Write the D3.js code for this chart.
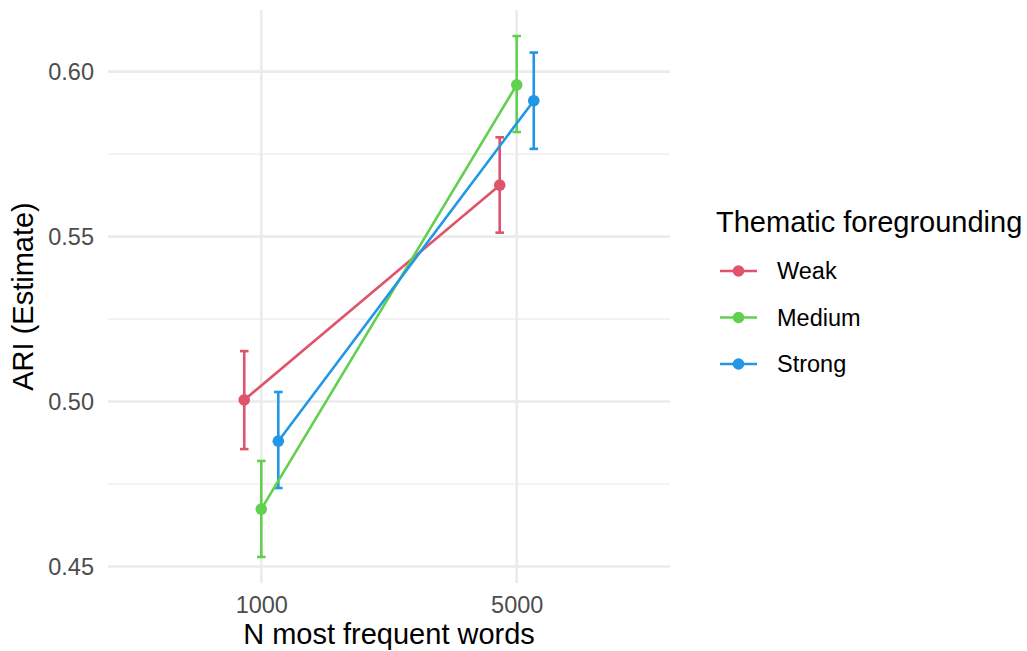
<!DOCTYPE html>
<html>
<head>
<meta charset="utf-8">
<script src="https://cdn.jsdelivr.net/npm/d3@7"></script>
<style>
  html, body { margin: 0; padding: 0; background: #fff; }
  svg { display: block; font-family: "Liberation Sans", Arial, Helvetica, sans-serif; }
</style>
</head>
<body>
<svg id="chart" width="1027" height="651"></svg>
<script>
// Vocabulary size (x categories) and thematic foregrounding levels (series)
const categories = ["1000", "5000"];
const groups = ["Weak", "Medium", "Strong"];
const colors = ["#DF536B", "#61D04F", "#2297E6"];

// ARI estimates with lower / upper interval bounds, one entry per category
const weakEst = [0.5005, 0.5656];
const weakLow = [0.4856, 0.5512];
const weakHigh = [0.5153, 0.5801];

const mediumEst = [0.4674, 0.5960];
const mediumLow = [0.4529, 0.5817];
const mediumHigh = [0.4820, 0.6108];

const strongEst = [0.4880, 0.5912];
const strongLow = [0.4738, 0.5766];
const strongHigh = [0.5029, 0.6058];

const yTicks = [0.45, 0.50, 0.55, 0.60];
const yMinor = [0.475, 0.525, 0.575];

const series = [
  { name: "Weak", est: weakEst, low: weakLow, high: weakHigh },
  { name: "Medium", est: mediumEst, low: mediumLow, high: mediumHigh },
  { name: "Strong", est: strongEst, low: strongLow, high: strongHigh }
];

const svg = d3.select("#chart");
const panel = { left: 108, right: 670, top: 10, bottom: 583 };

const color = d3.scaleOrdinal().domain(groups).range(colors);

const x = d3.scalePoint().domain(categories).range([panel.left, panel.right]).padding(0.6);
const dodge = d3.scalePoint().domain(groups).range([-x.step() * 0.2 / 3, x.step() * 0.2 / 3]);

const allLow = d3.min(series, s => d3.min(s.low));
const allHigh = d3.max(series, s => d3.max(s.high));
const pad = (allHigh - allLow) * 0.05;
const y = d3.scaleLinear().domain([allLow - pad, allHigh + pad]).range([panel.bottom, panel.top]);

// grid
const grid = svg.append("g");
grid.selectAll(".minor").data(yMinor).join("line")
  .attr("x1", panel.left).attr("x2", panel.right)
  .attr("y1", d => y(d)).attr("y2", d => y(d))
  .attr("stroke", "#EBEBEB").attr("stroke-width", 1.3);
grid.selectAll(".major").data(yTicks).join("line")
  .attr("x1", panel.left).attr("x2", panel.right)
  .attr("y1", d => y(d)).attr("y2", d => y(d))
  .attr("stroke", "#EBEBEB").attr("stroke-width", 2.6);
grid.selectAll(".vmajor").data(categories).join("line")
  .attr("x1", d => x(d)).attr("x2", d => x(d))
  .attr("y1", panel.top).attr("y2", panel.bottom)
  .attr("stroke", "#EBEBEB").attr("stroke-width", 2.6);

// axes (labels only, no lines)
const yAxis = svg.append("g").attr("transform", `translate(${panel.left - 14},0)`)
  .call(d3.axisLeft(y).tickValues(yTicks).tickFormat(d3.format(".2f")).tickSize(0).tickPadding(0));
yAxis.select(".domain").remove();
yAxis.selectAll("text").attr("font-size", 23.5).attr("fill", "#4D4D4D")
  .attr("font-family", "Liberation Sans, Arial, sans-serif").attr("dy", "0.35em");

const xAxis = svg.append("g").attr("transform", `translate(0,${panel.bottom + 13})`)
  .call(d3.axisBottom(x).tickSize(0).tickPadding(0));
xAxis.select(".domain").remove();
xAxis.selectAll("text").attr("font-size", 23.5).attr("fill", "#4D4D4D")
  .attr("font-family", "Liberation Sans, Arial, sans-serif").attr("dy", "0.72em");

// axis titles
svg.append("text")
  .attr("x", (panel.left + panel.right) / 2).attr("y", 644)
  .attr("text-anchor", "middle").attr("font-size", 29).attr("fill", "#000")
  .text("N most frequent words");
svg.append("text")
  .attr("transform", `translate(33,${(panel.top + panel.bottom) / 2}) rotate(-90)`)
  .attr("text-anchor", "middle").attr("font-size", 29).attr("fill", "#000")
  .text("ARI (Estimate)");

const px = (s, i) => x(categories[i]) + dodge(s.name);
const marks = svg.append("g");

// error bars
series.forEach(s => {
  const g = marks.append("g").attr("stroke", color(s.name)).attr("stroke-width", 2.6).attr("fill", "none");
  categories.forEach((c, i) => {
    const cx = px(s, i);
    g.append("line").attr("x1", cx).attr("x2", cx).attr("y1", y(s.low[i])).attr("y2", y(s.high[i]));
    g.append("line").attr("x1", cx - 4.3).attr("x2", cx + 4.3).attr("y1", y(s.low[i])).attr("y2", y(s.low[i]));
    g.append("line").attr("x1", cx - 4.3).attr("x2", cx + 4.3).attr("y1", y(s.high[i])).attr("y2", y(s.high[i]));
  });
});

// connecting lines
const line = d3.line().x(d => d[0]).y(d => d[1]);
series.forEach(s => {
  marks.append("path")
    .attr("d", line(categories.map((c, i) => [px(s, i), y(s.est[i])])))
    .attr("stroke", color(s.name)).attr("stroke-width", 2.6).attr("fill", "none");
});

// points
series.forEach(s => {
  marks.selectAll(null).data(categories).join("circle")
    .attr("cx", (c, i) => px(s, i)).attr("cy", (c, i) => y(s.est[i]))
    .attr("r", 5.8).attr("fill", color(s.name));
});

// legend
const legend = svg.append("g");
legend.append("text").attr("x", 716).attr("y", 232)
  .attr("font-size", 29).attr("fill", "#000").text("Thematic foregrounding");
const rowY = d3.scalePoint().domain(groups).range([271, 364]);
groups.forEach(gname => {
  const ry = rowY(gname);
  legend.append("line").attr("x1", 720).attr("x2", 757).attr("y1", ry).attr("y2", ry)
    .attr("stroke", color(gname)).attr("stroke-width", 2.6);
  legend.append("circle").attr("cx", 738.5).attr("cy", ry).attr("r", 5.8).attr("fill", color(gname));
  legend.append("text").attr("x", 777).attr("y", ry).attr("dy", "0.35em")
    .attr("font-size", 23.5).attr("fill", "#000").text(gname);
});
</script>
</body>
</html>
